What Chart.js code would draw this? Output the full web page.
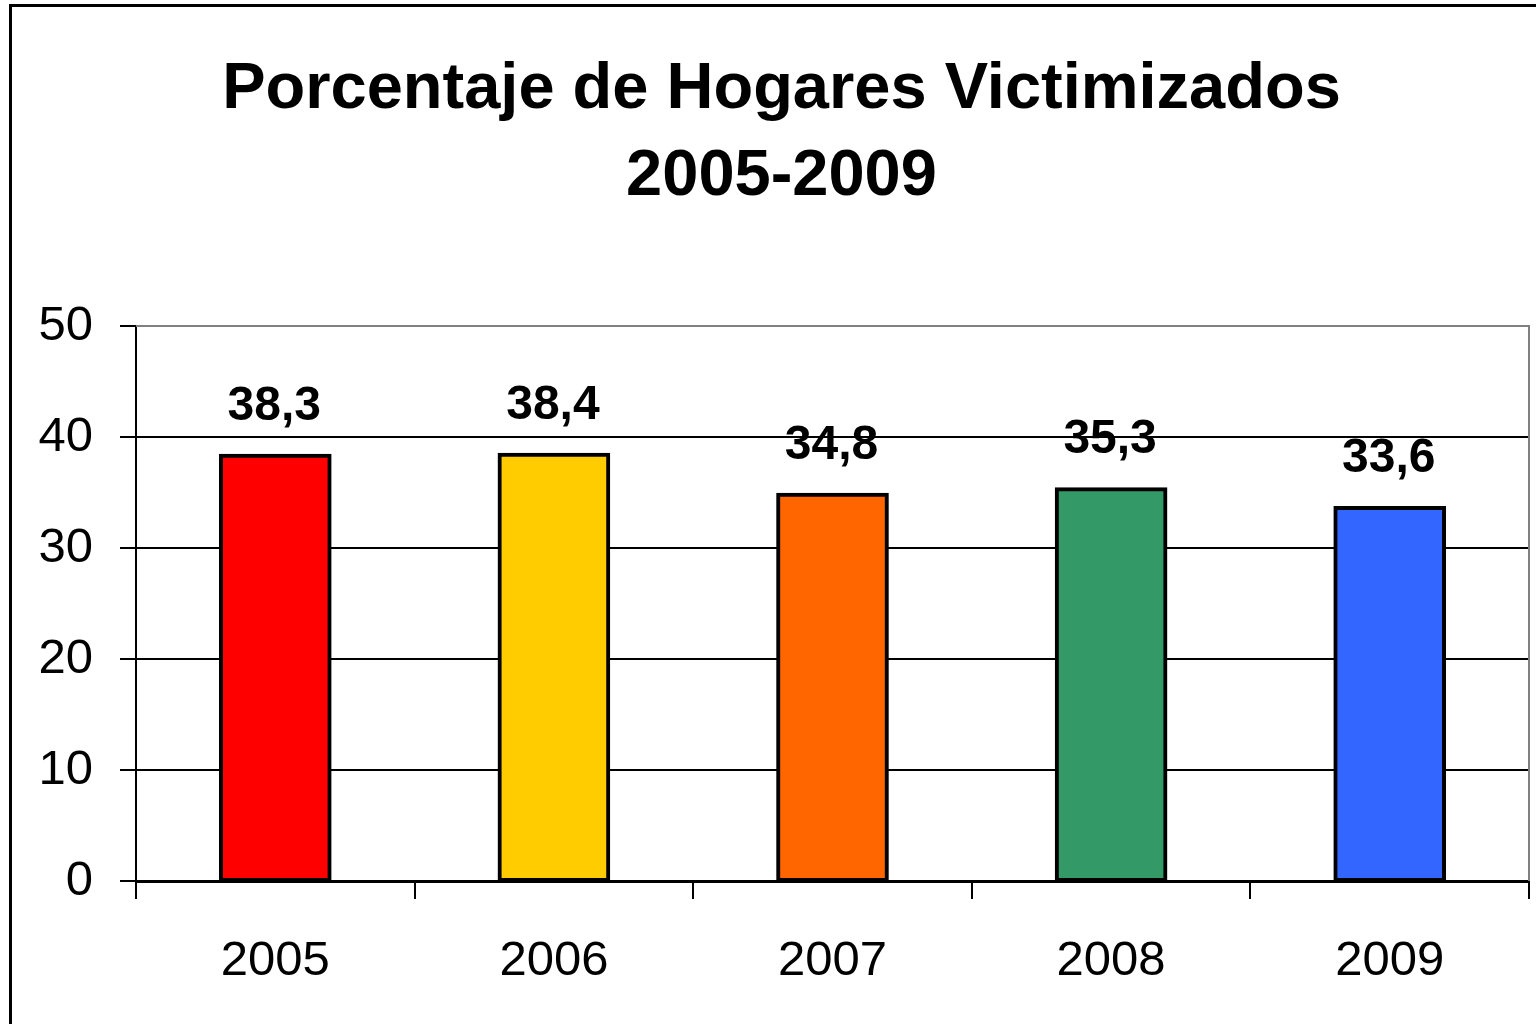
<!DOCTYPE html>
<html>
<head>
<meta charset="utf-8">
<script src="https://cdn.jsdelivr.net/npm/chart.js@4/dist/chart.umd.min.js"></script>
<style>
  html, body { margin: 0; padding: 0; background: #fff; overflow: hidden; }
  #frame {
    position: absolute; left: 9px; top: 4px;
    width: 1600px; height: 1100px;
    border-left: 3px solid #000; border-top: 3px solid #000;
  }
  #wrap { position: absolute; left: 0; top: 0; width: 1536px; height: 1024px; }
</style>
</head>
<body>
<div id="frame"></div>
<div id="wrap"><canvas id="chart"></canvas></div>
<script>
// Chart data
const years = ['2005', '2006', '2007', '2008', '2009'];
const hogaresVictimizados = [38.3, 38.4, 34.8, 35.3, 33.6];
const barColors = ['#FF0000', '#FFCC00', '#FF6600', '#339966', '#3366FF'];
const titleLines = ['Porcentaje de Hogares Victimizados', '2005-2009'];

const FONT = 'Liberation Sans, Arial, sans-serif';

// value labels above bars, decimal comma
const valueLabels = {
  id: 'valueLabels',
  afterDatasetsDraw(chart) {
    const ctx = chart.ctx;
    const meta = chart.getDatasetMeta(0);
    ctx.save();
    ctx.font = 'bold 48px ' + FONT;
    ctx.fillStyle = '#000';
    ctx.textAlign = 'center';
    ctx.textBaseline = 'middle';
    meta.data.forEach((bar, i) => {
      const txt = hogaresVictimizados[i].toFixed(1).replace('.', ',');
      ctx.fillText(txt, bar.x - 1, bar.y - 49);
    });
    ctx.restore();
  }
};

// grey frame on top/right of plot area
const plotFrame = {
  id: 'plotFrame',
  beforeDatasetsDraw(chart) {
    const a = chart.chartArea;
    const ctx = chart.ctx;
    ctx.save();
    ctx.strokeStyle = '#808080';
    ctx.lineWidth = 2;
    ctx.beginPath();
    ctx.moveTo(a.left, a.top);
    ctx.lineTo(a.right, a.top);
    ctx.lineTo(a.right, a.bottom);
    ctx.stroke();
    ctx.restore();
  }
};

new Chart(document.getElementById('chart'), {
  type: 'bar',
  data: {
    labels: years,
    datasets: [{
      data: hogaresVictimizados,
      backgroundColor: barColors,
      borderColor: '#000',
      borderWidth: 4,
      borderSkipped: false,
      inflateAmount: 2,
      barPercentage: 0.39,
      categoryPercentage: 1
    }]
  },
  options: {
    responsive: true,
    maintainAspectRatio: false,
    animation: false,
    layout: { padding: { left: 34, right: 7, top: 0, bottom: 0 } },
    plugins: {
      legend: { display: false },
      tooltip: { enabled: false },
      title: {
        display: true,
        text: titleLines,
        color: '#000',
        font: { family: FONT, size: 65, weight: 'bold', lineHeight: 87 / 65 },
        padding: { top: 47, bottom: 105 }
      }
    },
    scales: {
      y: {
        min: 0,
        max: 50,
        ticks: {
          stepSize: 10,
          color: '#000',
          padding: 27,
          font: { family: FONT, size: 49 }
        },
        grid: {
          color: (c) => c.tick && c.tick.value === 50 ? '#808080' : '#000',
          lineWidth: 2,
          tickLength: 16,
          tickColor: '#000'
        },
        border: { color: '#000', width: 2 },
        afterFit(scale) { scale.width = 102; }
      },
      x: {
        ticks: {
          color: '#000',
          padding: 33,
          font: { family: FONT, size: 49 }
        },
        grid: {
          offset: true,
          drawOnChartArea: false,
          tickLength: 18,
          tickColor: '#000',
          lineWidth: 2
        },
        border: { color: '#000', width: 3 },
        afterFit(scale) { scale.height = 143; }
      }
    }
  },
  plugins: [plotFrame, valueLabels]
});
</script>
</body>
</html>
